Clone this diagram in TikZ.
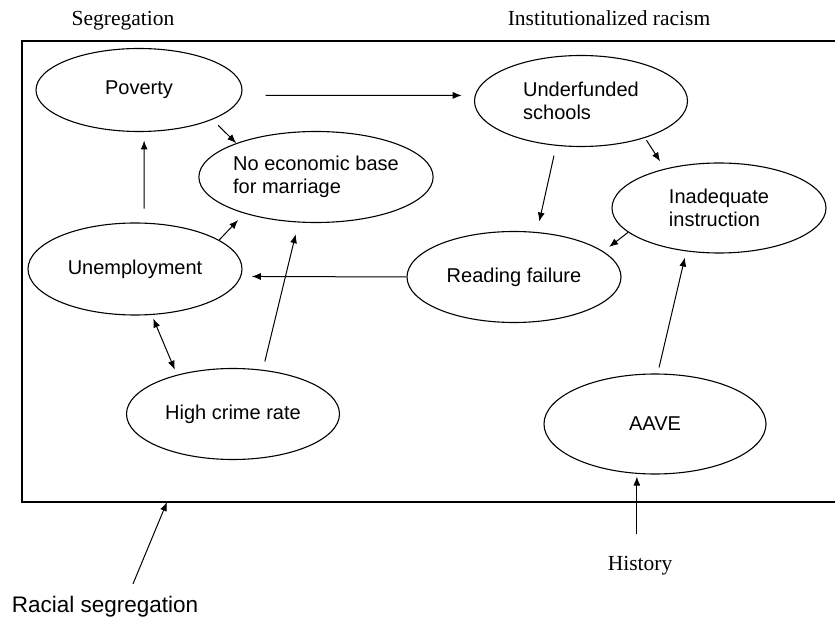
\documentclass[tikz,border=0pt]{standalone}
\usepackage{fontspec}
\setmainfont{Liberation Serif}
\setsansfont{Liberation Sans}
\usepackage{tikz}
\usetikzlibrary{arrows.meta, shapes, calc}
\tikzset{->, >={Latex[length=9pt, width=7pt]}}
\tikzset{factor/.style={shape=ellipse, draw, line width=1.1pt, inner sep=0pt,
    minimum width=213pt, minimum height=91pt, align=left,
    font=\sffamily\fontsize{20}{23}\selectfont}}
\tikzset{caption/.style={anchor=base, inner sep=0pt,
    font=\fontsize{21.5}{24}\selectfont}}

\begin{document}
\begin{tikzpicture}[x=1pt, y=-1pt, line width=1pt]
  \useasboundingbox (0,0) rectangle (835,617);
  %%%%% frame
  \draw[-, line width=2pt] (22,41) rectangle (850,502);
  \coordinate (boxfoot) at (167,502);
  %%%%% captions
  \node[caption] (segr) at (123,26) {Segregation};
  \node[caption] (inst) at (609,26) {Institutionalized racism};
  \node[caption] (hist) at (640,570.7) {History};
  \node[caption, font=\sffamily\fontsize{22.5}{26}\selectfont] (rseg) at (105,612.7) {Racial segregation};
  %%%%% segregation side
  \node[factor, minimum width=206pt, minimum height=83pt] (pov) at (139,90) {Poverty};
  \node[factor] (noecon) at (316,177) {No economic base\\for marriage};
  \node[factor, minimum width=214pt, minimum height=92pt] (unemp) at (135,269) {Unemployment};
  \node[factor] (crime) at (233,414) {High crime rate};
  %%%%% racism side
  \node[factor] (under) at (581,101) {Underfunded\\schools};
  \node[factor, minimum width=214pt, minimum height=90pt] (inad) at (719,208) {Inadequate\\instruction};
  \node[factor, minimum width=214pt] (read) at (514,277) {Reading failure};
  \node[factor, minimum width=222pt, minimum height=100pt] (aave) at (655,424) {AAVE};
  %%%%% links
  \path (pov.-3) edge[shorten <=24pt, shorten >=13pt] (under.177);
  \path (pov.-22) edge[shorten <=8pt] (noecon.157);
  \path (unemp.79) edge[shorten <=14pt, shorten >=8.5pt] (pov.-83);
  \path (unemp.19) edge[shorten >=9pt] (noecon.207);
  \path (crime.56) edge[shorten <=8.5pt, shorten >=12pt] (noecon.249);
  \path (read.west) edge[shorten >=10.6pt] (unemp.-4);
  \path (unemp.-70) edge[<->, shorten <=3.8pt, shorten >=5.5pt] (crime.145);
  \path (under.241) edge[shorten <=10pt, shorten >=10.7pt] (read.63);
  \path (under.-30) edge[shorten <=2.7pt, shorten >=8.7pt] (inad.144);
  \path (inad.195) edge[shorten >=7.3pt] (read.16);
  \path (aave.87) edge[shorten <=6.2pt, shorten >=6.3pt] (inad.233);
  \path (hist.north -| aave.250) edge[shorten <=21.5pt, shorten >=2.7pt] (aave.250);
  \path ($(rseg.north)+(23,0)$) edge[shorten <=13pt] (boxfoot);
\end{tikzpicture}
\end{document}
